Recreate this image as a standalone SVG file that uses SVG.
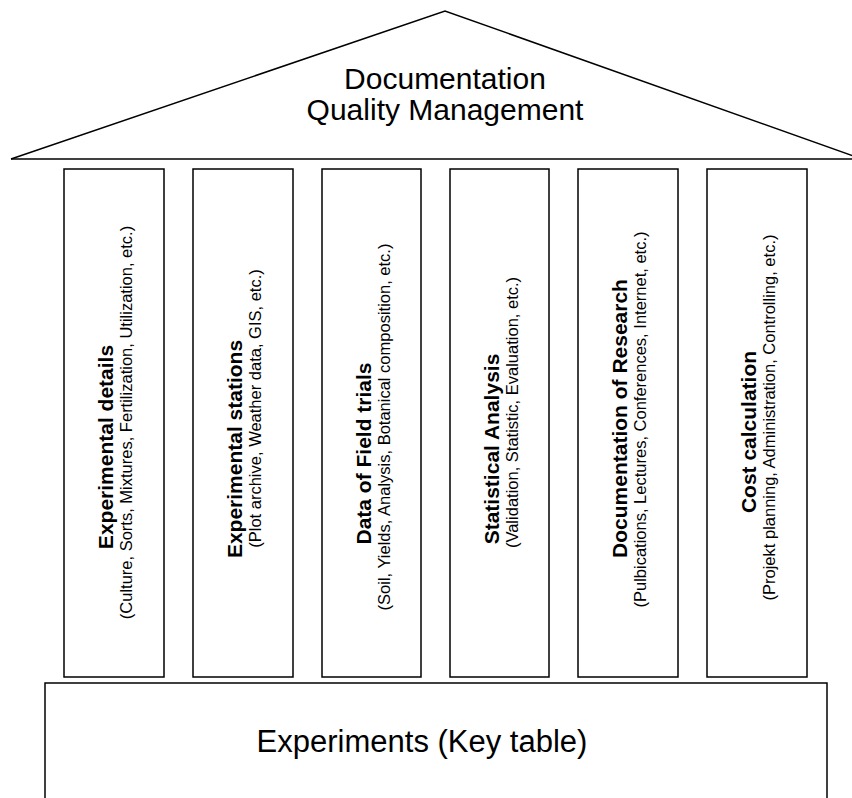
<svg xmlns="http://www.w3.org/2000/svg" width="852" height="798" viewBox="0 0 852 798">
<style>
.ln{fill:#fff;stroke:#000;stroke-width:1.5}
.t{font-family:"Liberation Sans",Arial,sans-serif;fill:#000;text-anchor:middle}
.b{font-family:"Liberation Sans",Arial,sans-serif;font-weight:bold;font-size:21px;fill:#000;text-anchor:middle}
.s{font-family:"Liberation Sans",Arial,sans-serif;font-size:16.5px;fill:#000;text-anchor:middle}
</style>
<rect width="852" height="798" fill="#fff"/>
<g id="roof">
<polyline class="ln" fill="none" points="11,159 445,11 862,159"/>
<line x1="11" y1="159" x2="852" y2="159" stroke="#000" stroke-width="1.5"/>
<text class="t" x="445" y="89" font-size="30">Documentation</text>
<text class="t" x="445" y="120" font-size="30">Quality Management</text>
</g>
<g id="pillar1">
<rect class="ln" x="64" y="169" width="100" height="508"/>
<text class="b" transform="translate(113,447) rotate(-90)">Experimental details</text>
<text class="s" transform="translate(132,422.5) rotate(-90)">(Culture, Sorts, Mixtures, Fertilization, Utilization, etc.)</text>
</g>
<g id="pillar2">
<rect class="ln" x="193" y="169" width="100" height="508"/>
<text class="b" transform="translate(242,449) rotate(-90)">Experimental stations</text>
<text class="s" transform="translate(261,408.5) rotate(-90)">(Plot archive, Weather data, GIS, etc.)</text>
</g>
<g id="pillar3">
<rect class="ln" x="322" y="169" width="99" height="508"/>
<text class="b" transform="translate(371,453.5) rotate(-90)">Data of Field trials</text>
<text class="s" transform="translate(390,427) rotate(-90)">(Soil, Yields, Analysis, Botanical composition, etc.)</text>
</g>
<g id="pillar4">
<rect class="ln" x="450" y="169" width="99" height="508"/>
<text class="b" transform="translate(499,449) rotate(-90)">Statistical Analysis</text>
<text class="s" transform="translate(518,412.5) rotate(-90)">(Validation, Statistic, Evaluation, etc.)</text>
</g>
<g id="pillar5">
<rect class="ln" x="578" y="169" width="100" height="508"/>
<text class="b" transform="translate(627,418.5) rotate(-90)">Documentation of Research</text>
<text class="s" transform="translate(646,419.5) rotate(-90)">(Pulbications, Lectures, Conferences, Internet, etc.)</text>
</g>
<g id="pillar6">
<rect class="ln" x="707" y="169" width="100" height="508"/>
<text class="b" transform="translate(756,432) rotate(-90)">Cost calculation</text>
<text class="s" transform="translate(775,417.5) rotate(-90)">(Projekt planning, Administration, Controlling, etc.)</text>
</g>
<g id="base">
<rect class="ln" x="45" y="683" width="782" height="130"/>
<text class="t" x="422" y="752" font-size="31">Experiments (Key table)</text>
</g>
<g id="connectors"/>
</svg>
